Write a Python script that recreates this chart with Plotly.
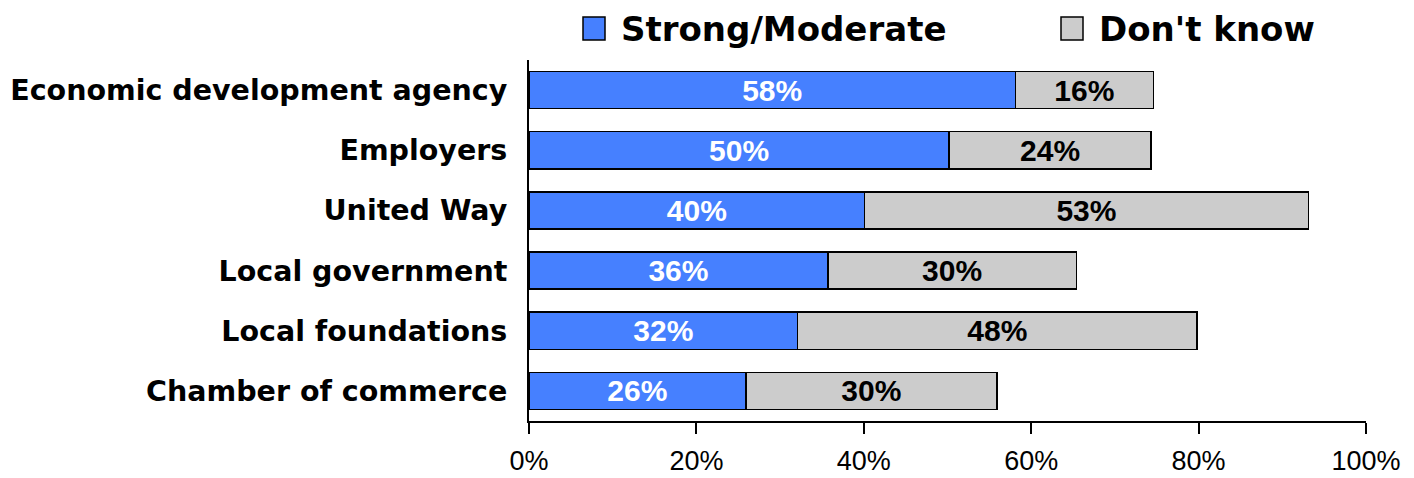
import plotly.graph_objects as go

categories = ["Economic development agency", "Employers", "United Way",
              "Local government", "Local foundations", "Chamber of commerce"]
strong = [58.1, 50.2, 40.1, 35.7, 32.1, 25.9]
dont_know = [16.5, 24.1, 53.0, 29.7, 47.7, 30.0]
strong_labels = ["58%", "50%", "40%", "36%", "32%", "26%"]
dont_know_labels = ["16%", "24%", "53%", "30%", "48%", "30%"]
tick_vals = [0, 20, 40, 60, 80, 100]
tick_text = ["0%", "20%", "40%", "60%", "80%", "100%"]

BLUE = "#4680FF"
GREY = "#CCCCCC"
WIDE = "DejaVu Sans, Liberation Sans, Arial, sans-serif"
PLAIN = "Liberation Sans, Arial, sans-serif"

# page body has an 8px margin, so the figure is laid out 8px in from the window corner
OFF = 8
W, H = 1414 - OFF, 478 - OFF
L, T = 529 - OFF, 60 - OFF
R = W - (1366 - OFF)
B = H - (421 - OFF)
pw, ph = W - L - R, H - T - B

def px_x(px):
    return (px - OFF - L) / pw

def px_y(py):
    return (H - B - (py - OFF)) / ph

fig = go.Figure()
fig.add_trace(go.Bar(
    y=categories, x=strong, orientation="h", name="Strong/Moderate",
    marker=dict(color=BLUE, line=dict(color="black", width=1.5)),
    text=strong_labels, textposition="inside", insidetextanchor="middle",
    textangle=0, constraintext="none",
    textfont=dict(family=PLAIN, size=30, color="white", weight="bold"),
    showlegend=False, width=0.62,
))
fig.add_trace(go.Bar(
    y=categories, x=dont_know, orientation="h", name="Don't know",
    marker=dict(color=GREY, line=dict(color="black", width=1.5)),
    text=dont_know_labels, textposition="inside", insidetextanchor="middle",
    textangle=0, constraintext="none",
    textfont=dict(family=PLAIN, size=30, color="black", weight="bold"),
    showlegend=False, width=0.62,
))

shapes = []
annotations = []
legend_items = [("Strong/Moderate", BLUE, 583, 622), ("Don't know", GREY, 1061, 1100)]
for label, col, sx, tx in legend_items:
    shapes.append(dict(type="rect", xref="paper", yref="paper",
                       x0=px_x(sx), x1=px_x(sx + 22), y0=px_y(40), y1=px_y(17),
                       fillcolor=col, line=dict(color="black", width=1.5)))
    annotations.append(dict(xref="paper", yref="paper", x=px_x(tx - 3), y=px_y(29),
                            xanchor="left", yanchor="middle", showarrow=False,
                            text=label,
                            font=dict(family=WIDE, size=34, color="black", weight="bold")))

fig.update_layout(
    width=W, height=H,
    margin=dict(l=L, r=R, t=T, b=B, pad=0),
    barmode="stack", bargap=0.38,
    plot_bgcolor="white", paper_bgcolor="white",
    showlegend=False,
    shapes=shapes, annotations=annotations,
    xaxis=dict(range=[0, 100], tickvals=tick_vals, ticktext=tick_text,
               automargin=False,
               showgrid=False, zeroline=False,
               showline=True, linecolor="black", linewidth=2,
               ticks="outside", ticklen=11, tickwidth=2, tickcolor="black",
               tickfont=dict(family=PLAIN, size=27, color="black"),
               ticklabelstandoff=4),
    yaxis=dict(autorange="reversed", showgrid=False, zeroline=False,
               automargin=False,
               showline=True, linecolor="black", linewidth=2,
               ticks="", ticklabelstandoff=14,
               tickfont=dict(family=WIDE, size=28.5, color="black", weight="bold")),
)

fig.write_html("out.html")
